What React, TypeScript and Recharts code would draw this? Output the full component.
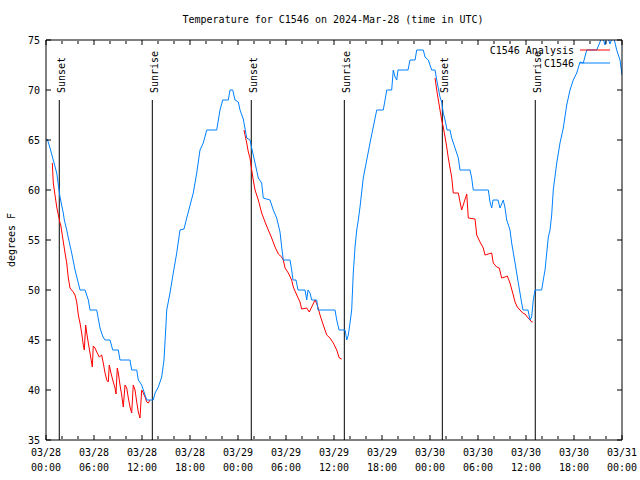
import React from 'react';
import { LineChart, Line, XAxis, YAxis, ReferenceLine } from 'recharts';

// Hours since 2024-03-28 00:00 UTC, temperature in degrees F
const observed: [number, number][] = [
  [0.16, 65.1], [0.5, 64.2], [0.91, 63], [1.34, 61.7], [1.75, 59.3], [2.16, 57.7], [2.29, 57],
  [2.59, 56], [2.79, 55.2], [3.21, 53.7], [3.63, 52], [4.04, 50.7], [4.25, 50], [4.88, 50],
  [5.29, 49], [5.5, 48], [6.34, 48], [6.75, 46.2], [7.13, 45.3], [7.38, 45], [8, 45], [8.34, 44],
  [9.04, 44], [9.25, 43], [10.5, 43], [10.71, 42], [11.34, 42], [11.54, 41], [11.96, 40.5],
  [12.59, 39], [13.41, 39], [13.63, 39.7], [14.04, 40.3], [14.46, 41.3], [14.75, 43], [14.96, 46],
  [15.09, 48], [15.5, 49.7], [15.91, 51.7], [16.34, 53.7], [16.75, 56], [17.25, 56.1], [17.59, 57.2],
  [18.41, 59.7], [18.84, 61.7], [19.25, 64], [19.66, 64.7], [20.09, 66], [21.34, 66], [21.75, 68],
  [22.09, 69], [22.79, 69], [23, 70], [23.34, 70], [23.63, 69], [24.04, 68.8], [24.25, 68],
  [24.66, 67.1], [25.09, 65.2], [25.5, 65], [25.71, 64.2], [26.13, 62.7], [26.54, 61.2], [26.96, 60.7],
  [27.16, 59.2], [28, 59], [28.41, 58], [28.84, 57.2], [29.25, 55.8], [29.46, 54.3], [29.66, 53],
  [30.5, 53], [30.71, 52], [30.88, 51], [31.25, 51], [31.5, 50], [32.38, 50], [32.59, 49], [32.75, 50],
  [33, 49.7], [33.21, 49], [33.84, 49], [34, 48], [36.13, 48], [36.34, 47], [36.63, 46], [37.38, 46],
  [37.59, 45], [37.79, 45.5], [38, 46.7], [38.21, 48], [38.41, 51.7], [38.63, 54.3], [38.84, 56],
  [39.04, 57], [39.25, 58.3], [39.66, 61.2], [40.09, 63], [40.5, 64.7], [40.91, 66.3], [41.34, 68],
  [42.16, 68], [42.38, 69], [42.59, 70], [43.21, 70], [43.41, 72], [43.63, 71.3], [43.84, 71],
  [44, 72], [45.25, 72], [45.5, 73], [46.13, 73], [46.34, 74], [47.16, 74], [47.38, 73.3],
  [47.79, 73], [48.21, 72], [48.63, 72], [48.84, 71], [49.25, 69.3], [49.46, 68.8], [49.66, 67.7],
  [49.88, 67], [50.13, 66], [50.5, 66], [50.71, 65.2], [51.13, 64.2], [51.54, 63.2], [51.75, 62],
  [53, 62], [53.21, 61.2], [53.41, 60], [55.29, 60], [55.5, 58.8], [55.71, 58.2], [55.88, 59],
  [56.5, 59], [56.75, 58.2], [57.16, 59], [57.38, 58.2], [57.59, 57], [58, 56], [58.21, 54.7],
  [58.63, 52.7], [59.04, 50.7], [59.46, 48.7], [59.63, 48], [60.25, 48], [60.5, 47], [60.71, 47.3],
  [60.91, 49], [61.13, 50], [61.96, 50], [62.16, 51], [62.38, 52], [62.59, 53.7], [62.79, 55.3],
  [63, 56], [63.21, 57.5], [63.41, 60], [63.84, 62.7], [64.25, 64.7], [64.66, 66.2], [65.09, 68.5],
  [65.5, 70], [65.91, 71], [66.34, 71.7], [66.75, 72.8], [67.16, 72.7], [67.59, 74], [68.84, 74],
  [69.25, 74.8], [69.5, 75.5], [69.88, 74.5], [70.13, 75.5], [70.5, 74.6], [70.88, 75.5],
  [71.13, 74.7], [71.34, 74], [71.75, 73], [72, 71.5],
];

const analysisNight1: [number, number][] = [
  [0.79, 62.7], [0.91, 60.7], [1.34, 58.3], [1.75, 56.7], [1.84, 56.5], [2.09, 55.2], [2.38, 53.7],
  [2.59, 52.7], [2.79, 51.2], [3, 50.2], [3.41, 49.8], [3.63, 49.5], [3.84, 48.8], [4.04, 47.5],
  [4.25, 46.7], [4.46, 45.7], [4.66, 44.5], [4.79, 44], [4.96, 46.5], [5.09, 45.7], [5.29, 44.7],
  [5.5, 43.7], [5.71, 42.7], [5.79, 42.3], [5.91, 44.4], [6.13, 44.2], [6.34, 43.8], [6.66, 43.3],
  [6.96, 43.5], [7.16, 42.7], [7.38, 41.7], [7.59, 41], [7.79, 40.8], [7.91, 42.5], [8.09, 41.8],
  [8.34, 41], [8.63, 40.2], [8.75, 39.6], [8.91, 42.2], [9.04, 41.7], [9.25, 40.5], [9.46, 39.5],
  [9.66, 38.3], [9.88, 40.5], [10.09, 40.2], [10.29, 39.2], [10.5, 38.3], [10.71, 37.7],
  [10.91, 40.5], [11.13, 40], [11.34, 38.8], [11.54, 37.8], [11.75, 37.2], [11.96, 40],
  [12.16, 39.7], [12.38, 39.3], [12.59, 38.8], [12.79, 38.7], [13, 39],
];

const analysisNight2: [number, number][] = [
  [24.75, 66], [25.09, 64.7], [25.29, 63.8], [25.5, 63.2], [25.71, 62], [25.91, 61], [26.13, 60],
  [26.54, 59], [26.96, 57.7], [27.38, 56.8], [27.79, 56], [28.21, 55.2], [28.63, 54.3], [29.04, 53.6],
  [29.46, 53.3], [29.66, 53], [29.88, 52.2], [30.29, 51.7], [30.71, 51], [30.91, 50.3], [31.34, 49.5],
  [31.75, 48.8], [31.96, 48.1], [32.59, 48.2], [32.91, 47.8], [33.21, 48.3], [33.63, 49],
  [33.91, 48.5], [34.25, 47.5], [34.66, 46.5], [35.09, 45.5], [35.5, 45.2], [35.91, 44.7],
  [36.34, 44], [36.66, 43.2], [36.96, 43.1],
];

const analysisNight3: [number, number][] = [
  [48.63, 71.2], [48.84, 70], [49.04, 69], [49.25, 68], [49.46, 67], [49.66, 66.3], [49.88, 65.3],
  [50.09, 64.3], [50.29, 63.2], [50.5, 62.2], [50.71, 61.3], [50.91, 59.7], [51.54, 59.7],
  [51.75, 58.8], [51.96, 58], [52.59, 59.6], [52.79, 57.2], [53.63, 57.1], [53.84, 55.5],
  [54.25, 54.8], [54.66, 54.2], [54.88, 53.5], [55.71, 53.7], [55.91, 52.7], [56.34, 52.3],
  [56.66, 52.2], [56.96, 51.2], [57.38, 51.3], [57.66, 51.4], [58, 50.7], [58.34, 49.7],
  [58.63, 48.8], [58.91, 48.3], [59.25, 48], [59.59, 47.7], [59.88, 47.6], [60.16, 47.3],
  [60.5, 47], [60.71, 46.8], [60.84, 46.8],
];

const sunEventHours = [1.66, 13.29, 25.66, 37.29, 49.54, 61.16];
const sunEventNames = ['Sunset', 'Sunrise', 'Sunset', 'Sunrise', 'Sunset', 'Sunrise'];
const sunLineTop = 69;

const xMajorTicks = [0, 6, 12, 18, 24, 30, 36, 42, 48, 54, 60, 66, 72];
const xMinorTicks = [2, 4, 8, 10, 14, 16, 20, 22, 26, 28, 32, 34, 38, 40, 44, 46, 50, 52, 56, 58, 62, 64, 68, 70];
const xTickDates = ['03/28', '03/28', '03/28', '03/28', '03/29', '03/29', '03/29', '03/29', '03/30', '03/30', '03/30', '03/30', '03/31'];
const xTickTimes = ['00:00', '06:00', '12:00', '18:00', '00:00', '06:00', '12:00', '18:00', '00:00', '06:00', '12:00', '18:00', '00:00'];
const yTicks = [35, 40, 45, 50, 55, 60, 65, 70, 75];

const FONT = '"DejaVu Sans Mono", monospace';
const BLUE = '#0080ff';
const RED = '#ff0000';

const blueData = observed.map(([h, v]) => ({ h, v }));
const redData: { h: number; v: number | null }[] = [];
[analysisNight1, analysisNight2, analysisNight3].forEach((seg, i) => {
  if (i > 0) redData.push({ h: seg[0][0] - 0.01, v: null });
  seg.forEach(([h, v]) => redData.push({ h, v }));
});

const XTick = (props: any) => {
  const { x, y, payload } = props;
  const i = xMajorTicks.indexOf(payload.value);
  return (
    <g>
      <text x={x} y={y + 16} textAnchor="middle" fontFamily={FONT} fontSize={10} fill="#000">{xTickDates[i]}</text>
      <text x={x} y={y + 31} textAnchor="middle" fontFamily={FONT} fontSize={10} fill="#000">{xTickTimes[i]}</text>
    </g>
  );
};

const EmptyTick = () => <g />;

const SunLabel = (name: string) => (props: any) => {
  const vb = props.viewBox || {};
  const x = vb.x + 5.5;
  const y = vb.y - 7;
  return (
    <text x={x} y={y} transform={`rotate(-90 ${x} ${y})`} textAnchor="start" fontFamily={FONT} fontSize={10} fill="#000">
      {name}
    </text>
  );
};

export default function App() {
  const axisStyle = { fontFamily: FONT, fontSize: 10, fill: '#000' };
  const tl = { stroke: '#000', strokeWidth: 1 };
  return (
    <div style={{ position: 'absolute', left: 0, top: 0, width: 640, height: 480, background: '#fff' }}>
      <LineChart width={640} height={480} margin={{ top: 40, right: 18, bottom: 0, left: 0 }}>
        <XAxis xAxisId="main" type="number" dataKey="h" domain={[0, 72]} allowDataOverflow ticks={xMajorTicks}
          interval={0} height={40} tickSize={0} tickMargin={0} tickLine={false}
          axisLine={{ stroke: '#000' }} tick={<XTick />} />
        <XAxis xAxisId="bmaj" type="number" dataKey="h" domain={[0, 72]} allowDataOverflow ticks={xMajorTicks}
          interval={0} mirror tick={EmptyTick} tickSize={5} axisLine={false} tickLine={tl} height={1} />
        <XAxis xAxisId="bmin" type="number" dataKey="h" domain={[0, 72]} allowDataOverflow ticks={xMinorTicks}
          interval={0} mirror tick={EmptyTick} tickSize={3} axisLine={false} tickLine={tl} height={1} />
        <XAxis xAxisId="tmaj" orientation="top" type="number" dataKey="h" domain={[0, 72]} allowDataOverflow ticks={xMajorTicks}
          interval={0} mirror tick={EmptyTick} tickSize={5} axisLine={{ stroke: '#000' }} tickLine={tl} height={1} />
        <XAxis xAxisId="tmin" orientation="top" type="number" dataKey="h" domain={[0, 72]} allowDataOverflow ticks={xMinorTicks}
          interval={0} mirror tick={EmptyTick} tickSize={3} axisLine={false} tickLine={tl} height={1} />
        <YAxis yAxisId="main" type="number" domain={[35, 75]} allowDataOverflow ticks={yTicks} interval={0}
          width={46} tickSize={0} tickMargin={6} tickLine={false} axisLine={{ stroke: '#000' }} tick={axisStyle} />
        <YAxis yAxisId="lt" type="number" domain={[35, 75]} allowDataOverflow ticks={yTicks} interval={0}
          mirror tick={EmptyTick} tickSize={5} axisLine={false} tickLine={tl} width={1} />
        <YAxis yAxisId="rt" orientation="right" type="number" domain={[35, 75]} allowDataOverflow ticks={yTicks} interval={0}
          mirror tick={EmptyTick} tickSize={5} axisLine={{ stroke: '#000' }} tickLine={tl} width={1} />
        {sunEventHours.map((h, i) => (
          <ReferenceLine key={i} xAxisId="main" yAxisId="main" segment={[{ x: h, y: 35 }, { x: h, y: sunLineTop }]}
            stroke="#000" strokeWidth={1} label={SunLabel(sunEventNames[i])} />
        ))}
        <Line xAxisId="main" yAxisId="main" data={redData} dataKey="v" type="linear" stroke={RED} strokeWidth={1}
          dot={false} activeDot={false} connectNulls={false} isAnimationActive={false} />
        <Line xAxisId="main" yAxisId="main" data={blueData} dataKey="v" type="linear" stroke={BLUE} strokeWidth={1}
          dot={false} activeDot={false} isAnimationActive={false} />
      </LineChart>
      <svg width={640} height={480} style={{ position: 'absolute', left: 0, top: 0, pointerEvents: 'none' }}>
        <text x={333} y={23} textAnchor="middle" fontFamily={FONT} fontSize={10} fill="#000">
          Temperature for C1546 on 2024-Mar-28 (time in UTC)
        </text>
        <text x={14.5} y={240} transform="rotate(-90 14.5 240)" textAnchor="middle" fontFamily={FONT} fontSize={10} fill="#000">
          degrees F
        </text>
        <text x={574} y={53.5} textAnchor="end" fontFamily={FONT} fontSize={10} fill="#000">C1546 Analysis</text>
        <line x1={580} x2={610} y1={50} y2={50} stroke={RED} strokeWidth={1} />
        <text x={574} y={66.5} textAnchor="end" fontFamily={FONT} fontSize={10} fill="#000">C1546</text>
        <line x1={580} x2={610} y1={63} y2={63} stroke={BLUE} strokeWidth={1} />
      </svg>
    </div>
  );
}
